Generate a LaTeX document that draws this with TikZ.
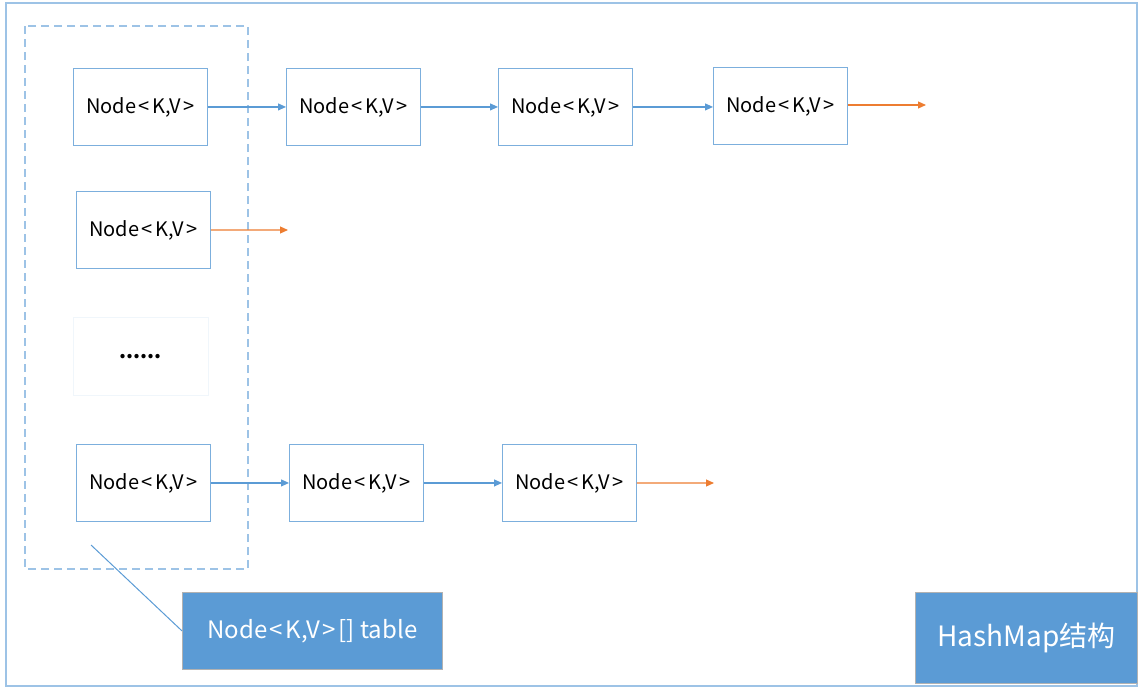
\documentclass[tikz,border=0pt]{standalone}
\usepackage{fontspec}
\setmainfont{Noto Sans CJK SC}
\usetikzlibrary{arrows.meta}
\definecolor{bblue}{HTML}{5B9BD5}
\definecolor{lblue}{HTML}{9DC3E6}
\definecolor{orng}{HTML}{ED7D31}
\newcommand{\nkv}{Node\kern2.5pt<\kern2.5pt K,V\kern2.5pt>}
\tikzset{
  x=1pt,y=-1pt,
  nbox/.style={draw=bblue!80,line width=0.9pt,fill=white,minimum width=134pt,minimum height=77pt,inner sep=0pt,font=\fontsize{20}{22}\selectfont,anchor=north west},
  arr/.style={draw=bblue,line width=1.1pt,-{Triangle[length=8pt,width=7pt]}},
  oarr/.style={draw=orng,line width=1.1pt,-{Triangle[length=8pt,width=7pt]}},
  label/.style={draw=gray!60,line width=0.8pt,fill=bblue,text=white,inner sep=0pt,anchor=north west}
}
\begin{document}
\begin{tikzpicture}
\useasboundingbox (0,0) rectangle (1145,696);
\draw[lblue,line width=1.2pt] (6,3) rectangle (1137,686);
\draw[lblue,line width=1.2pt,dash pattern=on 8pt off 5pt] (25,26) rectangle (248,569);
% row 1
\node[nbox] (a1) at (73,68) {\nkv};
\node[nbox] (a2) at (286,68) {\nkv};
\node[nbox] (a3) at (498,68) {\nkv};
\node[nbox] (a4) at (713,67) {\raisebox{2pt}{\nkv}};
\coordinate (a5) at (926,105);
\draw[arr] (a1.east) -- (a2.west);
\draw[arr] (a2.east) -- (a3.west);
\draw[arr] (a3.east) -- (a4.west |- a3.east);
\draw[oarr] (a4.east |- a5) -- (a5);
% row 2
\node[nbox] (b1) at (76,191) {\nkv};
\coordinate (b2) at (288,230);
\draw[oarr] (b1.east) -- (b2);
% dots
\node[nbox,draw=lblue!15,minimum width=135pt,minimum height=78pt] (d) at (73,317) {\bfseries ......};
% row 3
\node[nbox] (c1) at (76,444) {\nkv};
\node[nbox] (c2) at (289,444) {\nkv};
\node[nbox] (c3) at (502,444) {\nkv};
\coordinate (c4) at (714,483);
\draw[arr] (c1.east) -- (c2.west);
\draw[arr] (c2.east) -- (c3.west);
\draw[oarr] (c3.east) -- (c4);
% labels
\node[label,minimum width=260pt,minimum height=77pt,font=\fontsize{24}{26}\selectfont] (t) at (182,592) {Node\kern2.5pt<\kern2.5pt K,V\kern2.5pt>\kern3pt[] table};
\coordinate (tp) at (91,545);
\draw[bblue,line width=1pt] (tp) -- (t.west);
\node[label,minimum width=222pt,minimum height=91pt,font=\fontsize{28}{30}\selectfont] (h) at (915,592) {HashMap结构};
\end{tikzpicture}
\end{document}
